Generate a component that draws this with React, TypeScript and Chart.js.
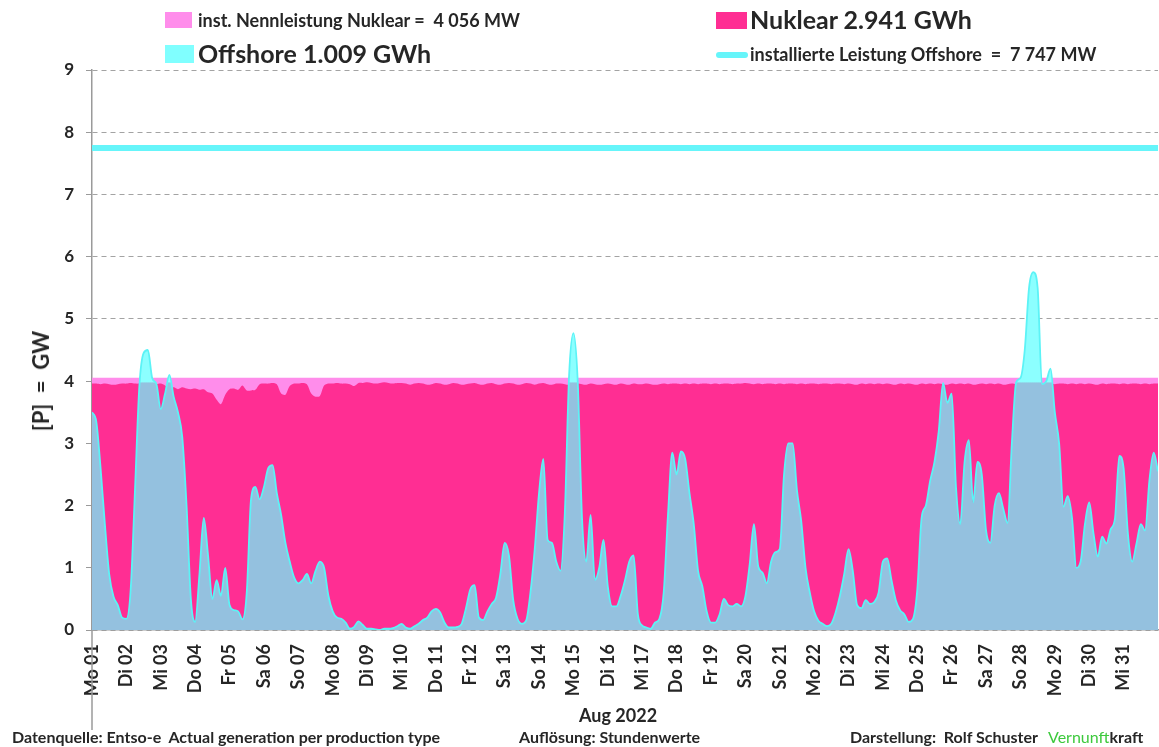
import React, { useEffect, useRef } from 'react';
import { Chart, registerables } from 'chart.js';

Chart.register(...registerables);

// ---------- data ----------
const dayLabels = [
  'Mo 01', 'Di 02', 'Mi 03', 'Do 04', 'Fr 05', 'Sa 06', 'So 07', 'Mo 08', 'Di 09', 'Mi 10',
  'Do 11', 'Fr 12', 'Sa 13', 'So 14', 'Mo 15', 'Di 16', 'Mi 17', 'Do 18', 'Fr 19', 'Sa 20',
  'So 21', 'Mo 22', 'Di 23', 'Mi 24', 'Do 25', 'Fr 26', 'Sa 27', 'So 28', 'Mo 29', 'Di 30', 'Mi 31',
];
const hoursPerDay = 24;
const stepHours = 3; // one value every 3 hours, Aug 1 00:00 .. Sep 1 00:00
const yTickValues = [0, 1, 2, 3, 4, 5, 6, 7, 8, 9];

// Offshore wind generation, GW (3-hourly)
const offshoreGW = [
  3.5, 3.35, 2.6, 1.7, 0.9, 0.54, 0.4, 0.2,
  0.18, 0.65, 2.25, 3.9, 4.45, 4.5, 4.05, 3.95,
  3.55, 3.8, 4.1, 3.75, 3.5, 3.1, 2.0, 0.5,
  0.13, 0.9, 1.8, 1.2, 0.5, 0.8, 0.55, 1.0,
  0.4, 0.32, 0.3, 0.17, 0.6, 2.1, 2.3, 2.1,
  2.3, 2.6, 2.65, 2.2, 1.85, 1.4, 1.1, 0.85,
  0.75, 0.8, 0.9, 0.75, 0.95, 1.1, 1.0, 0.55,
  0.3, 0.2, 0.18, 0.12, 0.02, 0.05, 0.14, 0.08,
  0.02, 0.02, 0.01, 0.0, 0.02, 0.02, 0.03, 0.06,
  0.1, 0.04, 0.02, 0.06, 0.1, 0.16, 0.2, 0.3,
  0.34, 0.28, 0.12, 0.04, 0.04, 0.05, 0.1, 0.35,
  0.65, 0.72, 0.2, 0.16, 0.3, 0.42, 0.52, 0.9,
  1.4, 1.2, 0.48, 0.18, 0.1, 0.15, 0.6, 1.3,
  2.2, 2.75, 1.45, 1.4, 1.1, 0.95, 1.88, 4.1,
  4.77, 4.0, 1.8, 1.1, 1.85, 0.8, 1.0, 1.45,
  0.7, 0.38, 0.38, 0.55, 0.8, 1.1, 1.2, 0.25,
  0.07, 0.04, 0.02, 0.12, 0.18, 0.6, 1.85, 2.85,
  2.5, 2.87, 2.75, 2.2, 1.7, 0.95, 0.7, 0.3,
  0.12, 0.12, 0.25, 0.5, 0.4, 0.38, 0.42, 0.38,
  0.54, 1.05, 1.7, 1.02, 0.92, 0.75, 1.1, 1.25,
  1.3, 2.5, 3.0, 3.0, 2.25, 1.75, 1.0, 0.6,
  0.3, 0.15, 0.1, 0.06, 0.1, 0.28, 0.55, 0.9,
  1.3, 0.95, 0.4, 0.35, 0.48, 0.42, 0.45, 0.6,
  1.1, 1.15, 0.8, 0.48, 0.32, 0.25, 0.13, 0.18,
  0.65, 1.8, 2.0, 2.4, 2.7, 3.2, 3.97, 3.65,
  3.8, 2.3, 1.7, 2.7, 3.05, 2.05, 2.7, 2.5,
  1.6, 1.4, 2.0, 2.2, 1.95, 1.72, 3.0, 3.98,
  4.05, 4.5, 5.5, 5.75, 5.5, 3.95, 4.0, 4.2,
  3.5, 3.0, 1.98, 2.15, 1.8, 1.0, 1.1, 1.7,
  2.05, 1.55, 1.18, 1.5, 1.39, 1.62, 1.8, 2.8,
  2.6, 1.55, 1.1, 1.39, 1.7, 1.6, 2.4, 2.85,
  2.55,
];

// Nuclear generation, GW (3-hourly)
const nuclearGW = [
  3.96, 3.96, 3.95, 3.96, 3.95, 3.94, 3.95, 3.96,
  3.96, 3.97, 3.96, 3.96, 3.97, 3.96, 3.96, 3.95,
  3.96, 3.93, 3.88, 3.9, 3.87, 3.9, 3.88, 3.87,
  3.88, 3.86, 3.87, 3.82, 3.8, 3.7, 3.63, 3.78,
  3.87, 3.88, 3.86, 3.93, 3.85, 3.85, 3.86, 3.95,
  3.96, 3.96, 3.97, 3.95, 3.8, 3.78, 3.92, 3.96,
  3.96, 3.97, 3.95, 3.8, 3.75, 3.76, 3.93, 3.96,
  3.96, 3.97, 3.96, 3.96, 3.95, 3.92, 3.97, 3.97,
  3.98, 3.97, 3.96, 3.97, 3.98, 3.97, 3.96, 3.97,
  3.97, 3.96, 3.94, 3.96, 3.97, 3.96, 3.94, 3.95,
  3.97, 3.96, 3.94, 3.95, 3.97, 3.96, 3.94, 3.95,
  3.96, 3.97, 3.95, 3.94, 3.96, 3.97, 3.95, 3.94,
  3.96, 3.97, 3.96, 3.94, 3.95, 3.97, 3.96, 3.94,
  3.96, 3.97, 3.95, 3.94, 3.96, 3.96, 3.95, 3.94,
  3.95, 3.96, 3.95, 3.94, 3.96, 3.95, 3.94, 3.95,
  3.96, 3.95, 3.94, 3.96, 3.95, 3.94, 3.96, 3.95,
  3.95, 3.96, 3.95, 3.94, 3.95, 3.96, 3.95, 3.96,
  3.96, 3.95, 3.96, 3.95, 3.96, 3.95, 3.96, 3.96,
  3.95, 3.96, 3.95, 3.96, 3.96, 3.95, 3.96, 3.96,
  3.97, 3.96, 3.95, 3.96, 3.95, 3.96, 3.96, 3.95,
  3.96, 3.95, 3.96, 3.96, 3.95, 3.96, 3.95, 3.96,
  3.96, 3.95, 3.96, 3.96, 3.95, 3.96, 3.96, 3.95,
  3.96, 3.95, 3.94, 3.96, 3.95, 3.96, 3.95, 3.96,
  3.95, 3.96, 3.95, 3.94, 3.96, 3.95, 3.96, 3.95,
  3.94, 3.96, 3.95, 3.96, 3.95, 3.96, 3.95, 3.94,
  3.96, 3.95, 3.96, 3.95, 3.96, 3.94, 3.95, 3.96,
  3.95, 3.96, 3.95, 3.96, 3.94, 3.95, 3.96, 3.95,
  3.96, 3.95, 3.96, 3.95, 3.96, 3.94, 3.95, 3.96,
  3.95, 3.96, 3.96, 3.95, 3.96, 3.95, 3.96, 3.95,
  3.96, 3.95, 3.94, 3.96, 3.95, 3.96, 3.96, 3.95,
  3.96, 3.95, 3.96, 3.96, 3.95, 3.96, 3.95, 3.96,
  3.96,
];

const nuclearCapacityGW = 4.056;
const offshoreCapacityGW = 7.747;

// ---------- styling ----------
const FONT = 'Lato, "Open Sans", sans-serif';
const TEXT = '#262626';
const C_NUC_CAP = '#FF8DEB';
const C_NUC = '#FF2E93';
const C_OFF_LOW = '#94C1DF';
const C_OFF_HIGH = '#8CFFFF';
const C_OFF_LINE = '#5CF3F6';
const C_OFF_CAP = '#66F5FA';

export default function App() {
  const ref = useRef<HTMLCanvasElement | null>(null);

  useEffect(() => {
    document.body.style.margin = '0';
    const canvas = ref.current;
    if (!canvas) return;
    const hours = offshoreGW.map((_, i) => i * stepHours);
    const totalHours = dayLabels.length * hoursPerDay;

    const offshoreFill = (ctx: any) => {
      const chart = ctx.chart;
      const area = chart.chartArea;
      if (!area) return C_OFF_LOW;
      const yPix = chart.scales.y.getPixelForValue(3.97);
      const g = chart.ctx.createLinearGradient(0, area.bottom, 0, area.top);
      const f = Math.min(1, Math.max(0, (area.bottom - yPix) / (area.bottom - area.top)));
      g.addColorStop(0, C_OFF_LOW);
      g.addColorStop(f, C_OFF_LOW);
      g.addColorStop(Math.min(1, f + 0.002), C_OFF_HIGH);
      g.addColorStop(1, C_OFF_HIGH);
      return g;
    };

    const axisExtension = {
      id: 'axisExtension',
      afterDraw(chart: any) {
        const { ctx, chartArea } = chart;
        ctx.save();
        ctx.strokeStyle = '#9a9a9a';
        ctx.lineWidth = 1.5;
        ctx.beginPath();
        ctx.moveTo(chartArea.left, chartArea.bottom);
        ctx.lineTo(chartArea.left, chartArea.bottom + 100);
        ctx.stroke();
        ctx.restore();
      },
    };

    const chart = new Chart(canvas, {
      type: 'line',
      data: {
        datasets: [
          {
            label: 'installierte Leistung Offshore',
            data: hours.map((h) => ({ x: h, y: offshoreCapacityGW })),
            borderColor: C_OFF_CAP,
            borderWidth: 6,
            pointRadius: 0,
            fill: false,
            order: 1,
          },
          {
            label: 'Offshore',
            data: hours.map((h, i) => ({ x: h, y: offshoreGW[i] })),
            borderColor: C_OFF_LINE,
            borderWidth: 1.8,
            backgroundColor: offshoreFill,
            pointRadius: 0,
            fill: 'origin',
            cubicInterpolationMode: 'monotone',
            order: 2,
          },
          {
            label: 'Nuklear',
            data: hours.map((h, i) => ({ x: h, y: nuclearGW[i] })),
            borderColor: C_NUC,
            borderWidth: 0,
            backgroundColor: C_NUC,
            pointRadius: 0,
            fill: 'origin',
            tension: 0.3,
            order: 3,
          },
          {
            label: 'inst. Nennleistung Nuklear',
            data: hours.map((h) => ({ x: h, y: nuclearCapacityGW })),
            borderColor: C_NUC_CAP,
            borderWidth: 0,
            backgroundColor: C_NUC_CAP,
            pointRadius: 0,
            fill: 'origin',
            order: 4,
          },
        ],
      },
      options: {
        responsive: false,
        maintainAspectRatio: false,
        animation: false,
        events: [],
        layout: { padding: { top: 70, right: 1, bottom: 0, left: 0 } },
        plugins: { legend: { display: false }, tooltip: { enabled: false } },
        scales: {
          x: {
            type: 'linear',
            min: 0,
            max: totalHours,
            afterBuildTicks: (s: any) => {
              s.ticks = dayLabels.map((_, i) => ({ value: i * hoursPerDay }));
            },
            afterFit: (s: any) => {
              s.height = 117;
            },
            ticks: {
              autoSkip: false,
              maxRotation: 90,
              minRotation: 90,
              padding: 6,
              color: TEXT,
              font: { family: FONT, size: 18, weight: 'bold' },
              callback: (v: any) => dayLabels[Math.round(Number(v) / hoursPerDay)] ?? '',
            },
            grid: { display: false },
            border: { display: true, color: '#9a9a9a', width: 1.5 },
          },
          y: {
            min: 0,
            max: 9,
            afterBuildTicks: (s: any) => {
              s.ticks = yTickValues.map((v) => ({ value: v }));
            },
            afterFit: (s: any) => {
              s.width = 92;
            },
            ticks: {
              padding: 12,
              color: TEXT,
              font: { family: FONT, size: 17, weight: 'bold' },
            },
            grid: {
              color: '#a3a3a3',
              lineWidth: 1,
              tickLength: 6,
              tickColor: '#9a9a9a',
              tickBorderDash: [],
            },
            border: { display: true, color: '#9a9a9a', width: 1.5, dash: [5, 4] },
          },
        },
      },
      plugins: [axisExtension],
    } as any);

    return () => chart.destroy();
  }, []);

  const abs = (left: number, top: number, extra: React.CSSProperties = {}): React.CSSProperties => ({
    position: 'absolute',
    left,
    top,
    whiteSpace: 'pre',
    fontFamily: FONT,
    fontWeight: 700,
    color: TEXT,
    lineHeight: 1,
    ...extra,
  });

  return (
    <div style={{ position: 'relative', width: 1159, height: 747, background: '#fff', overflow: 'hidden' }}>
      <canvas ref={ref} width={1159} height={747} style={{ position: 'absolute', left: 0, top: 0 }} />

      {/* y axis title */}
      <div
        style={abs(41, 381, {
          fontSize: 22,
          transform: 'translate(-50%, -50%) rotate(-90deg)',
        })}
      >
        {'[P]  =  GW'}
      </div>

      {/* legend */}
      <div style={abs(165, 12, { width: 27, height: 16, background: C_NUC_CAP })} />
      <div style={abs(198, 11, { fontSize: 18 })}>{'inst. Nennleistung Nuklear =  4 056 MW'}</div>
      <div style={abs(165, 45, { width: 29, height: 18, background: '#80FFFF' })} />
      <div style={abs(198, 41, { fontSize: 25 })}>Offshore 1.009 GWh</div>

      <div style={abs(716, 12, { width: 31, height: 17, background: C_NUC })} />
      <div style={abs(750, 7, { fontSize: 25 })}>Nuklear 2.941 GWh</div>
      <div style={abs(716, 52, { width: 32, height: 6, borderRadius: 3, background: C_OFF_CAP })} />
      <div style={abs(750, 45, { fontSize: 18 })}>{'installierte Leistung Offshore  =  7 747 MW'}</div>

      {/* footer */}
      <div style={abs(579, 706, { fontSize: 18 })}>Aug 2022</div>
      <div style={abs(12, 729, { fontSize: 16 })}>{'Datenquelle: Entso-e  Actual generation per production type'}</div>
      <div style={abs(519, 729, { fontSize: 16 })}>{'Auflösung: Stundenwerte'}</div>
      <div style={abs(850, 729, { fontSize: 16 })}>{'Darstellung:  Rolf Schuster   '}</div>
      <div style={abs(1048, 729, { fontSize: 16 })}>
        <span style={{ color: '#3DC93D', fontWeight: 400 }}>Vernunft</span>
        <span>kraft</span>
      </div>
    </div>
  );
}
